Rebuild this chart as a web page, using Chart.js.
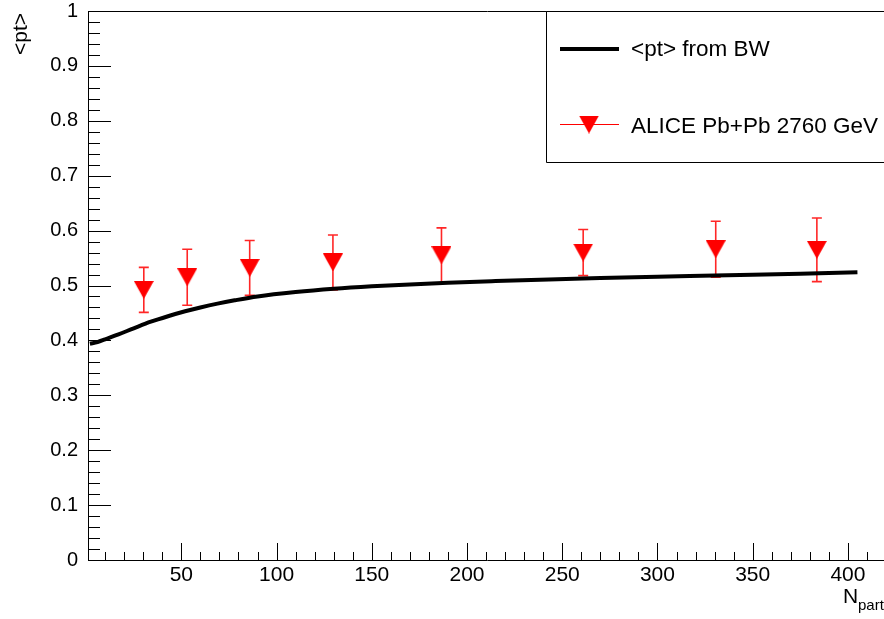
<!DOCTYPE html>
<html>
<head>
<meta charset="utf-8">
<script src="https://cdn.jsdelivr.net/npm/chart.js@4/dist/chart.umd.min.js"></script>
<style>
  html, body { margin: 0; padding: 0; background: #fff; overflow: hidden; }
  #wrap { width: 888px; height: 619px; position: relative; }
</style>
</head>
<body>
<div id="wrap"><canvas id="c" width="888" height="619"></canvas></div>
<script>
// Mean transverse momentum versus number of participants:
// blast-wave (BW) calculation and ALICE Pb+Pb data at 2760 GeV.

const bwNpart   = [2, 6, 10, 17, 25, 34, 43, 52, 60, 69, 78, 90, 110, 130, 150, 170, 190, 215, 243, 270, 300, 330, 350, 375, 405];
const bwMeanPt  = [0.394, 0.397, 0.402, 0.411, 0.422, 0.434, 0.444, 0.453, 0.460, 0.467, 0.473, 0.480, 0.488, 0.494, 0.4985, 0.502, 0.505, 0.508, 0.511, 0.5135, 0.516, 0.518, 0.5195, 0.5215, 0.524];

const aliceNpart  = [383.7, 330.6, 261.0, 186.6, 129.6, 85.9, 53.1, 30.3];
const aliceMeanPt = [0.565, 0.566, 0.560, 0.555, 0.542, 0.532, 0.515, 0.492];
const aliceErr    = [0.058, 0.051, 0.042, 0.050, 0.050, 0.050, 0.051, 0.041];

const xTickValues = [50, 100, 150, 200, 250, 300, 350, 400];
const xTickLabels = ['50', '100', '150', '200', '250', '300', '350', '400'];
const yTickValues = [0, 0.1, 0.2, 0.3, 0.4, 0.5, 0.6, 0.7, 0.8, 0.9, 1];
const yTickLabels = ['0', '0.1', '0.2', '0.3', '0.4', '0.5', '0.6', '0.7', '0.8', '0.9', '1'];

const FONT = '"Liberation Sans", Arial, Helvetica, sans-serif';
const RED = '#ff0000';

// Filled down-pointing triangle marker, centred on its bounding box
function makeDownTriangle(w, h) {
  const cv = document.createElement('canvas');
  cv.width = w; cv.height = h;
  const g = cv.getContext('2d');
  g.fillStyle = RED;
  g.beginPath();
  g.moveTo(0, 0);
  g.lineTo(w, 0);
  g.lineTo(w / 2, h);
  g.closePath();
  g.fill();
  return cv;
}
const triMarker = makeDownTriangle(20, 18);

const bwPoints = bwNpart.map((x, i) => ({ x: x, y: bwMeanPt[i] }));
const alicePoints = aliceNpart.map((x, i) => ({ x: x, y: aliceMeanPt[i], err: aliceErr[i] }));

// Vertical error bars with short caps, drawn under the curve and markers
const errorBars = {
  id: 'errorBars',
  beforeDatasetsDraw(chart) {
    const ctx = chart.ctx;
    const xs = chart.scales.x, ys = chart.scales.y;
    ctx.save();
    ctx.strokeStyle = 'rgba(255,0,0,0.85)';
    ctx.lineWidth = 1.6;
    alicePoints.forEach(p => {
      const px = xs.getPixelForValue(p.x);
      const yTop = ys.getPixelForValue(p.y + p.err);
      const yBot = ys.getPixelForValue(p.y - p.err);
      ctx.beginPath();
      ctx.moveTo(px, yTop); ctx.lineTo(px, yBot);
      ctx.moveTo(px - 5, yTop); ctx.lineTo(px + 5, yTop);
      ctx.moveTo(px - 5, yBot); ctx.lineTo(px + 5, yBot);
      ctx.stroke();
    });
    ctx.restore();
  }
};

// Frame, inward tick marks, axis titles and the legend box
const frameAndLegend = {
  id: 'frameAndLegend',
  afterDraw(chart) {
    const ctx = chart.ctx;
    const a = chart.chartArea;
    const xs = chart.scales.x, ys = chart.scales.y;
    ctx.save();
    ctx.strokeStyle = '#000';
    ctx.lineWidth = 1;

    // frame
    ctx.beginPath();
    ctx.moveTo(a.left + 0.5, a.bottom + 0.5);
    ctx.lineTo(a.left + 0.5, a.top + 0.5);
    ctx.lineTo(a.right + 0.5, a.top + 0.5);
    ctx.lineTo(a.right + 0.5, a.bottom + 0.5);
    ctx.lineTo(a.left + 0.5, a.bottom + 0.5);
    ctx.stroke();

    // x ticks: minor every 10, major every 50
    ctx.beginPath();
    for (let v = 10; v <= xs.max; v += 10) {
      const px = Math.round(xs.getPixelForValue(v)) + 0.5;
      const len = (v % 50 === 0) ? 17 : 8;
      ctx.moveTo(px, a.bottom);
      ctx.lineTo(px, a.bottom - len);
    }
    // y ticks: minor every 0.02, major every 0.1
    for (let k = 0; k <= 50; k++) {
      const py = Math.round(ys.getPixelForValue(k * 0.02)) + 0.5;
      const len = (k % 5 === 0) ? 23 : 12;
      ctx.moveTo(a.left, py);
      ctx.lineTo(a.left + len, py);
    }
    ctx.stroke();

    // axis titles
    ctx.fillStyle = '#000';
    ctx.font = '21px ' + FONT;
    ctx.save();
    ctx.translate(21, 13);
    ctx.rotate(-Math.PI / 2);
    ctx.textAlign = 'right';
    ctx.textBaseline = 'middle';
    ctx.fillText('<pt>', 0, 0);
    ctx.restore();

    ctx.textAlign = 'left';
    ctx.textBaseline = 'alphabetic';
    ctx.font = '21px ' + FONT;
    ctx.fillText('N', 843, 603);
    ctx.font = '15px ' + FONT;
    ctx.fillText('part', 858, 610);

    // legend
    const lx = 546.5, ly = a.top + 0.5, lb = 162.5;
    ctx.fillStyle = '#fff';
    ctx.fillRect(lx, ly, 400, lb - ly);
    ctx.beginPath();
    ctx.moveTo(lx + 400, ly); ctx.lineTo(lx, ly); ctx.lineTo(lx, lb); ctx.lineTo(lx + 400, lb);
    ctx.stroke();

    ctx.strokeStyle = '#000';
    ctx.lineWidth = 4;
    ctx.beginPath();
    ctx.moveTo(560, 49); ctx.lineTo(619, 49);
    ctx.stroke();

    ctx.strokeStyle = RED;
    ctx.lineWidth = 1.2;
    ctx.beginPath();
    ctx.moveTo(560, 124.5); ctx.lineTo(619, 124.5);
    ctx.stroke();
    ctx.drawImage(triMarker, 589 - 10, 124.5 - 9);

    ctx.fillStyle = '#000';
    ctx.font = '22.5px ' + FONT;
    ctx.textBaseline = 'middle';
    ctx.fillText('<pt> from BW', 631, 50);
    ctx.fillText('ALICE Pb+Pb 2760 GeV', 631, 127);
    ctx.restore();
  }
};

new Chart(document.getElementById('c'), {
  type: 'scatter',
  data: {
    datasets: [
      {
        label: 'ALICE Pb+Pb 2760 GeV',
        data: alicePoints,
        pointStyle: triMarker,
        pointRadius: 10,
        pointHoverRadius: 10,
        showLine: false,
        order: 0
      },
      {
        label: '<pt> from BW',
        data: bwPoints,
        showLine: true,
        borderColor: '#000',
        borderWidth: 4,
        pointRadius: 0,
        pointHoverRadius: 0,
        cubicInterpolationMode: 'monotone',
        fill: false,
        order: 1
      }
    ]
  },
  options: {
    responsive: false,
    animation: false,
    events: [],
    layout: { autoPadding: false, padding: { top: 11, right: 2, left: 0, bottom: 0 } },
    plugins: {
      legend: { display: false },
      tooltip: { enabled: false },
      title: { display: false }
    },
    scales: {
      x: {
        type: 'linear',
        min: 1,
        max: 420,
        grid: { display: false, drawTicks: false },
        border: { display: false },
        afterBuildTicks: s => { s.ticks = xTickValues.map(v => ({ value: v })); },
        afterFit: s => { s.height = 59; s.paddingLeft = 0; s.paddingRight = 0; },
        ticks: {
          autoSkip: false,
          maxRotation: 0,
          minRotation: 0,
          padding: 3,
          color: '#000',
          font: { family: FONT, size: 21 },
          callback: v => { const i = xTickValues.indexOf(v); return i >= 0 ? xTickLabels[i] : ''; }
        }
      },
      y: {
        type: 'linear',
        min: 0,
        max: 1,
        grid: { display: false, drawTicks: false },
        border: { display: false },
        afterBuildTicks: s => { s.ticks = yTickValues.map(v => ({ value: v })); },
        afterFit: s => { s.width = 88; s.paddingTop = 0; s.paddingBottom = 0; },
        ticks: {
          autoSkip: false,
          padding: 10,
          color: '#000',
          font: { family: FONT, size: 20 },
          callback: v => { const i = yTickValues.findIndex(t => Math.abs(t - v) < 1e-9); return i >= 0 ? yTickLabels[i] : ''; }
        }
      }
    }
  },
  plugins: [errorBars, frameAndLegend]
});
</script>
</body>
</html>
